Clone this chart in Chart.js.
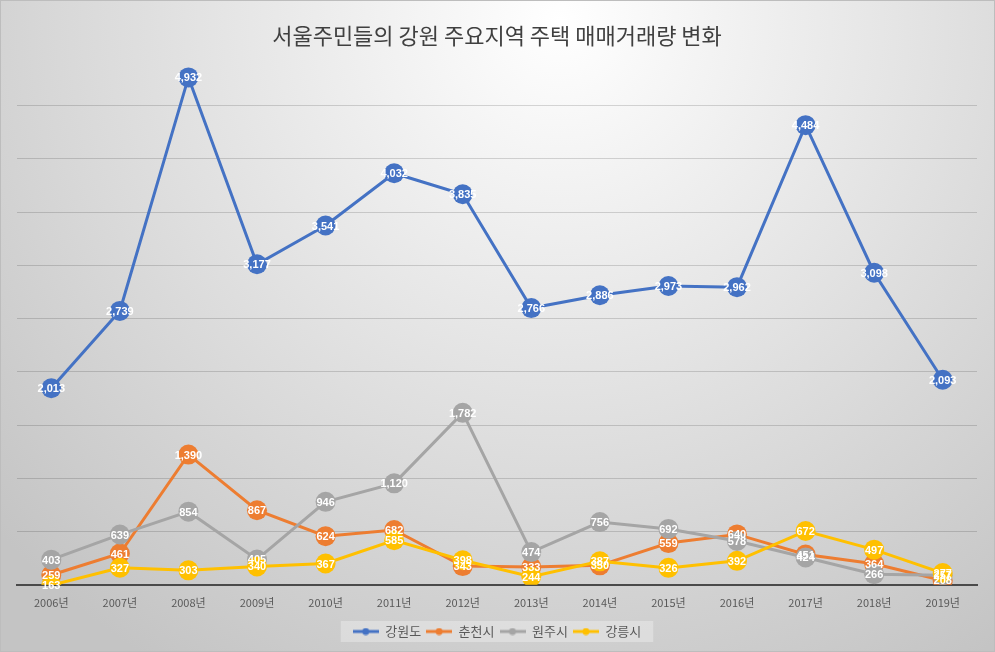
<!DOCTYPE html>
<html>
<head>
<meta charset="utf-8">
<script src="https://cdn.jsdelivr.net/npm/chart.js@4.4.0/dist/chart.umd.min.js"></script>
<style>
html, body { margin: 0; padding: 0; background: #fff; }
canvas { display: block; }
</style>
</head>
<body>
<canvas id="tradeChart" width="995" height="652"></canvas>
<script>
const years = ['2006년', '2007년', '2008년', '2009년', '2010년', '2011년', '2012년',
               '2013년', '2014년', '2015년', '2016년', '2017년', '2018년', '2019년'];
const gangwon = [2013, 2739, 4932, 3177, 3541, 4032, 3835, 2766, 2886, 2973, 2962, 4484, 3098, 2093];
const chuncheon = [259, 461, 1390, 867, 624, 682, 343, 333, 350, 559, 640, 451, 364, 208];
const wonju = [403, 639, 854, 405, 946, 1120, 1782, 474, 756, 692, 578, 424, 266, 257];
const gangneung = [163, 327, 303, 340, 367, 585, 398, 244, 387, 326, 392, 672, 497, 277];

const seriesNames = ['강원도', '춘천시', '원주시', '강릉시'];
const seriesColors = ['#4472C4', '#ED7D31', '#A5A5A5', '#FFC000'];

const yMin = 167;
const yMax = 5167;
const yStep = 500;

const krFont = "'Noto Sans CJK KR', 'Noto Sans', sans-serif";

function legendMark(color) {
    const c = document.createElement('canvas');
    c.width = 26;
    c.height = 8;
    const g = c.getContext('2d');
    g.strokeStyle = color;
    g.lineWidth = 3;
    g.beginPath();
    g.moveTo(0, 4);
    g.lineTo(26, 4);
    g.stroke();
    g.fillStyle = color;
    g.beginPath();
    g.arc(13, 4, 3.5, 0, Math.PI * 2);
    g.fill();
    return c;
}

// gradient background + legend box
const backgroundPlugin = {
    id: 'background',
    beforeDraw(chart) {
        const ctx = chart.ctx;
        const w = chart.width, h = chart.height;
        ctx.save();
        const grad = ctx.createRadialGradient(560, 20, 0, 560, 20, 760);
        grad.addColorStop(0, '#ffffff');
        grad.addColorStop(1, '#c4c4c4');
        ctx.fillStyle = grad;
        ctx.fillRect(0, 0, w, h);
        ctx.strokeStyle = '#bdbdbd';
        ctx.lineWidth = 1;
        ctx.strokeRect(0.5, 0.5, w - 1, h - 1);

        const boxes = chart.legend && chart.legend.legendHitBoxes;
        if (boxes && boxes.length) {
            let l = Infinity, r = -Infinity, t = Infinity, b = -Infinity;
            boxes.forEach(bx => {
                l = Math.min(l, bx.left);
                r = Math.max(r, bx.left + bx.width);
                t = Math.min(t, bx.top);
                b = Math.max(b, bx.top + bx.height);
            });
            ctx.fillStyle = 'rgba(255,255,255,0.3)';
            ctx.fillRect(l - 12, t - 4, r - l + 24, b - t + 8);
        }
        ctx.restore();
    }
};

// white value labels centred on markers
const valueLabelPlugin = {
    id: 'valueLabels',
    afterDatasetsDraw(chart) {
        const ctx = chart.ctx;
        ctx.save();
        ctx.font = "bold 11px 'Liberation Sans', Arial, sans-serif";
        ctx.fillStyle = '#ffffff';
        ctx.textAlign = 'center';
        ctx.textBaseline = 'middle';
        chart.data.datasets.forEach((ds, i) => {
            const meta = chart.getDatasetMeta(i);
            meta.data.forEach((pt, j) => {
                ctx.fillText(ds.data[j].toLocaleString('en-US'), pt.x, pt.y + 1);
            });
        });
        ctx.restore();
    }
};

const allSeries = [gangwon, chuncheon, wonju, gangneung];

const datasets = allSeries.map((values, i) => ({
    label: seriesNames[i],
    data: values,
    borderColor: seriesColors[i],
    backgroundColor: seriesColors[i],
    borderWidth: 3,
    pointRadius: 10,
    pointHoverRadius: 10,
    pointBorderWidth: 0,
    tension: 0,
    order: allSeries.length - i
}));

new Chart(document.getElementById('tradeChart'), {
    type: 'line',
    data: { labels: years, datasets: datasets },
    plugins: [backgroundPlugin, valueLabelPlugin],
    options: {
        responsive: false,
        animation: false,
        layout: {
            autoPadding: false,
            padding: { left: 17, right: 18, top: 0, bottom: 4 }
        },
        plugins: {
            tooltip: { enabled: false },
            title: {
                display: true,
                text: '서울주민들의 강원 주요지역 주택 매매거래량 변화',
                color: '#404040',
                font: { family: krFont, size: 22, weight: 'normal' },
                padding: { top: 22, bottom: 4 }
            },
            legend: {
                position: 'bottom',
                labels: {
                    usePointStyle: true,
                    pointStyleWidth: 26,
                    color: '#595959',
                    font: { family: krFont, size: 13 },
                    padding: 5,
                    generateLabels(chart) {
                        return chart.data.datasets.map((ds, i) => ({
                            text: ds.label,
                            pointStyle: legendMark(seriesColors[i]),
                            fillStyle: seriesColors[i],
                            strokeStyle: seriesColors[i],
                            lineWidth: 0,
                            fontColor: '#595959',
                            datasetIndex: i
                        }));
                    }
                }
            }
        },
        scales: {
            x: {
                offset: true,
                grid: { display: false, drawTicks: false },
                border: { display: true, color: '#4a4a4a', width: 2 },
                ticks: {
                    color: '#595959',
                    font: { family: krFont, size: 11 },
                    padding: 11,
                    maxRotation: 0
                }
            },
            y: {
                min: yMin,
                max: yMax,
                afterBuildTicks(scale) {
                    const ticks = [];
                    for (let v = yMin; v < yMax; v += yStep) ticks.push({ value: v });
                    scale.ticks = ticks;
                },
                ticks: { display: false },
                grid: { color: 'rgba(0,0,0,0.15)', lineWidth: 1, drawTicks: false },
                border: { display: false }
            }
        }
    }
});
</script>
</body>
</html>
